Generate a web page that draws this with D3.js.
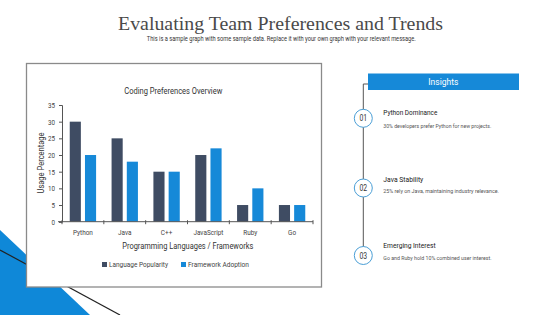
<!DOCTYPE html>
<html>
<head>
<meta charset="utf-8">
<script src="https://cdn.jsdelivr.net/npm/d3@7/dist/d3.min.js"></script>
<style>
html,body{margin:0;padding:0;background:#fff;}
svg{display:block;}
</style>
</head>
<body>
<svg id="c" width="560" height="315"></svg>
<script>
const categories = ["Python","Java","C++","JavaScript","Ruby","Go"];
const languagePopularity = [30,25,15,20,5,5];
const frameworkAdoption = [20,18,15,22,10,5];
const seriesNames = ["Language Popularity","Framework Adoption"];
const yTicks = [0,5,10,15,20,25,30,35];
const insightNums = ["01","02","03"];
const insightTitles = ["Python Dominance","Java Stability","Emerging Interest"];
const insightTexts = ["30% developers prefer Python for new projects.",
  "25% rely on Java, maintaining industry relevance.",
  "Go and Ruby hold 10% combined user interest."];

const colors = ["#3f4c63","#1689d8"];
const NF = 'Roboto,"Liberation Sans",sans-serif';
const K = 0.8; // condensing factor
const svg = d3.select("#c");

function cond(sel, k){
  sel.each(function(){
    const w = this.getComputedTextLength();
    d3.select(this).attr("textLength", w*k).attr("lengthAdjust","spacingAndGlyphs");
  });
  return sel;
}
function fit(sel, w){
  return sel.attr("textLength", w).attr("lengthAdjust","spacingAndGlyphs");
}

// decorative background
svg.append("path").attr("d","M0,230 L0,315 L90,315 Z").attr("fill","#0f88d8");
svg.append("line").attr("x1",0).attr("y1",250).attr("x2",120).attr("y2",315)
  .attr("stroke","#222").attr("stroke-width",1.2);

// title
fit(svg.append("text").attr("x",280.5).attr("y",30).attr("text-anchor","middle")
  .attr("font-family",'"Liberation Serif",serif').attr("font-size",18.5).attr("fill","#4a4a4a")
  .text("Evaluating Team Preferences and Trends"), 325);
fit(svg.append("text").attr("x",281.3).attr("y",40.8).attr("text-anchor","middle")
  .attr("font-family",NF).attr("font-size",6.5).attr("fill","#333")
  .text("This is a sample graph with some sample data. Replace it with your own graph with your relevant message."), 269);

// chart box
svg.append("rect").attr("x",26.5).attr("y",63.5).attr("width",295).attr("height",223.5)
  .attr("fill","#fff").attr("stroke","#8a8a8a").attr("stroke-width",1.3);

fit(svg.append("text").attr("x",173.3).attr("y",93.5).attr("text-anchor","middle")
  .attr("font-family",NF).attr("font-size",9).attr("fill","#333").text("Coding Preferences Overview"), 98);

const y = d3.scaleLinear().domain([0,35]).range([221.7,105]);
const x0 = d3.scaleBand().domain(categories).range([62,313]);
const bw = x0.bandwidth();
const x1 = d3.scaleBand().domain(seriesNames).range([bw*0.185,bw*0.815]).paddingInner(0.27);

const g = svg.append("g");
const data = categories.map((c,i)=>({cat:c, vals:[languagePopularity[i],frameworkAdoption[i]]}));
const grp = g.selectAll("g.cat").data(data).enter().append("g")
  .attr("transform",d=>`translate(${x0(d.cat)},0)`);
grp.selectAll("rect").data(d=>d.vals.map((v,j)=>({s:seriesNames[j],v,j}))).enter().append("rect")
  .attr("x",d=>x1(d.s)).attr("width",x1.bandwidth())
  .attr("y",d=>y(d.v)).attr("height",d=>y(0)-y(d.v)).attr("fill",d=>colors[d.j]);

// y axis
const yAxis = d3.axisLeft(y).tickValues(yTicks).tickSize(3).tickPadding(4);
const ya = svg.append("g").attr("transform","translate(62,0)").call(yAxis);
ya.select(".domain").attr("stroke","#555");
ya.selectAll(".tick line").attr("stroke","#555");
ya.selectAll("text").attr("font-family",NF).attr("font-size",7.8).attr("fill","#444");
cond(ya.selectAll("text"), K);

// x axis
const xa = svg.append("g").attr("transform",`translate(0,${y(0)})`);
xa.append("line").attr("x1",58).attr("x2",313).attr("y1",0).attr("y2",0).attr("stroke","#555");
const bounds = categories.map(c=>x0(c)).concat([x0(categories[categories.length-1])+bw]);
xa.selectAll("line.tk").data(bounds).enter().append("line").attr("class","tk")
  .attr("x1",d=>d).attr("x2",d=>d).attr("y1",-1.5).attr("y2",2.5).attr("stroke","#555");
cond(xa.selectAll("text").data(categories).enter().append("text")
  .attr("x",d=>x0(d)+bw/2).attr("y",13.5).attr("text-anchor","middle")
  .attr("font-family",NF).attr("font-size",8).attr("fill","#444").text(d=>d), K);

fit(svg.append("text").attr("x",187.8).attr("y",248.5).attr("text-anchor","middle")
  .attr("font-family",NF).attr("font-size",9.5).attr("fill","#333").text("Programming Languages / Frameworks"), 131);
fit(svg.append("text").attr("transform","translate(43.5,163) rotate(-90)").attr("text-anchor","middle")
  .attr("font-family",NF).attr("font-size",9).attr("fill","#333").text("Usage Percentage"), 61);

// legend
const legX = [102,181];
const legW = [59,61];
seriesNames.forEach((s,i)=>{
  svg.append("rect").attr("x",legX[i]).attr("y",262).attr("width",5).attr("height",5).attr("fill",colors[i]);
  fit(svg.append("text").attr("x",legX[i]+7).attr("y",267.3).attr("font-family",NF)
    .attr("font-size",8).attr("fill","#444").text(s), legW[i]);
});

// insights panel
svg.append("rect").attr("x",368).attr("y",73.5).attr("width",151).attr("height",16.5).attr("fill","#1689d8");
fit(svg.append("text").attr("x",443.3).attr("y",85.3).attr("text-anchor","middle")
  .attr("font-family",NF).attr("font-size",9.5).attr("fill","#fff").text("Insights"), 30);
const cy = [118.3,188,255.5];
svg.append("path").attr("d",`M368,84 L363.3,84 L363.3,${cy[2]}`).attr("fill","none")
  .attr("stroke","#555").attr("stroke-width",1);
const headY = [115,181.5,248];
const descY = [127.5,193,259.5];
const headW = [54,40,52.3];
const descW = [108,115.7,108.3];
insightNums.forEach((n,i)=>{
  svg.append("circle").attr("cx",363.3).attr("cy",cy[i]).attr("r",9)
    .attr("fill","#fff").attr("stroke","#4b9fd6").attr("stroke-width",1);
  cond(svg.append("text").attr("x",363.3).attr("y",cy[i]+3).attr("text-anchor","middle")
    .attr("font-family",NF).attr("font-size",8.5).attr("fill","#333").text(n), K);
  fit(svg.append("text").attr("x",383.3).attr("y",headY[i]).attr("font-family",NF)
    .attr("font-size",8).attr("fill","#1a1a1a").text(insightTitles[i]), headW[i]);
  fit(svg.append("text").attr("x",383.3).attr("y",descY[i]).attr("font-family",NF)
    .attr("font-size",6).attr("fill","#555").text(insightTexts[i]), descW[i]);
});
</script>
</body>
</html>
